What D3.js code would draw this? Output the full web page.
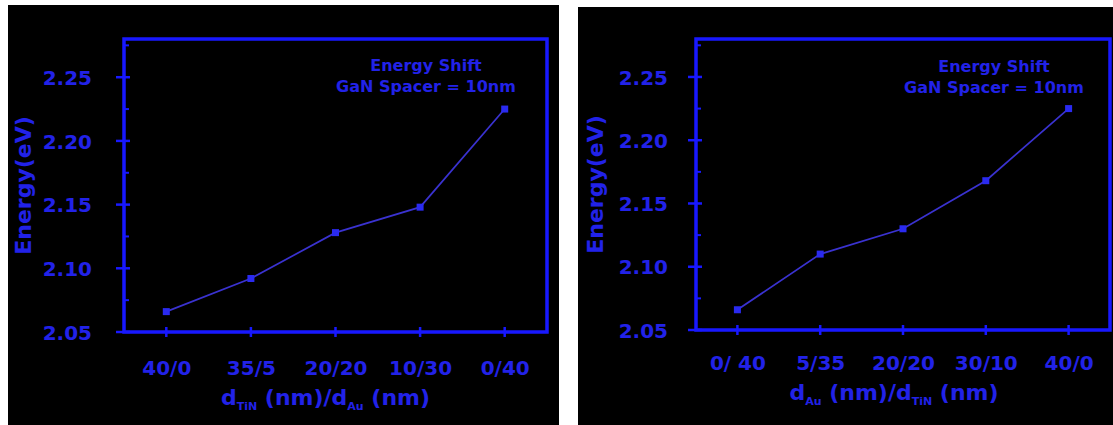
<!DOCTYPE html>
<html>
<head>
<meta charset="utf-8">
<title>Energy shift</title>
<style>
  body { margin: 0; background: #fff; }
  svg { display: block; }
</style>
</head>
<body>
<div id="chart"></div>
<script src="https://cdn.jsdelivr.net/npm/d3@7"></script>
<script>
// values
var yTickValues = [2.05, 2.10, 2.15, 2.20, 2.25];
var yMinorValues = [2.075, 2.125, 2.175, 2.225, 2.275];
var yDomain = [2.05, 2.28];

var leftCategories = ["40/0", "35/5", "20/20", "10/30", "0/40"];
var leftEnergy = [2.066, 2.092, 2.128, 2.148, 2.225];

var rightCategories = ["0/ 40", "5/35", "20/20", "30/10", "40/0"];
var rightEnergy = [2.066, 2.110, 2.130, 2.168, 2.225];

var noteLines = ["Energy Shift", "GaN Spacer = 10nm"];
var yTitle = "Energy(eV)";
var leftXTitle = [["d", false], ["TiN", true], [" (nm)/d", false], ["Au", true], [" (nm)", false]];
var rightXTitle = [["d", false], ["Au", true], [" (nm)/d", false], ["TiN", true], [" (nm)", false]];

var W = 1113, H = 425;
var frameColor = "#1818ff";
var lineColor = "#3a32d0";
var textColor = "#2222e8";
var FONT = "'DejaVu Sans', Arial, sans-serif";

var svg = d3.select("#chart").append("svg")
  .attr("width", W).attr("height", H);

function txt(sel, size) {
  return sel.attr("fill", textColor).attr("font-family", FONT)
    .attr("font-weight", "bold").attr("font-size", size);
}

function panel(opt) {
  // black backdrop
  svg.append("rect")
    .attr("x", opt.bg[0]).attr("y", opt.bg[1])
    .attr("width", opt.bg[2]).attr("height", opt.bg[3])
    .attr("fill", "#000");

  var x = d3.scalePoint().domain(opt.cats).range([opt.left, opt.right]).padding(0.5);
  var y = d3.scaleLinear().domain(yDomain).range([opt.bottom, opt.top]);

  var g = svg.append("g");

  // y axis labels via d3 axis
  var yAxis = g.append("g")
    .attr("transform", "translate(" + opt.left + ",0)")
    .call(d3.axisLeft(y).tickValues(yTickValues).tickSize(0).tickPadding(opt.yPad)
      .tickFormat(d3.format(".2f")));
  yAxis.select(".domain").remove();
  yAxis.attr("font-size", null).attr("font-family", null);
  txt(yAxis.selectAll("text"), 20).attr("dy", "0.36em");

  // x axis labels
  var xAxis = g.append("g")
    .attr("transform", "translate(0," + opt.bottom + ")")
    .call(d3.axisBottom(x).tickSize(0).tickPadding(0));
  xAxis.select(".domain").remove();
  xAxis.attr("font-size", null).attr("font-family", null);
  txt(xAxis.selectAll("text"), 20).attr("dy", null).attr("y", opt.xPad);

  // frame
  g.append("rect")
    .attr("x", opt.left).attr("y", opt.top)
    .attr("width", opt.right - opt.left).attr("height", opt.bottom - opt.top)
    .attr("fill", "none").attr("stroke", frameColor).attr("stroke-width", 3.5);

  // major / minor y ticks
  g.selectAll(".ymaj").data(yTickValues).enter().append("line")
    .attr("x1", opt.left - 8).attr("x2", opt.left + 6)
    .attr("y1", function(d) { return y(d); }).attr("y2", function(d) { return y(d); })
    .attr("stroke", frameColor).attr("stroke-width", 2.5);
  g.selectAll(".ymin").data(yMinorValues).enter().append("line")
    .attr("x1", opt.left).attr("x2", opt.left + 5)
    .attr("y1", function(d) { return y(d); }).attr("y2", function(d) { return y(d); })
    .attr("stroke", frameColor).attr("stroke-width", 2);

  // x ticks
  g.selectAll(".xt").data(opt.cats).enter().append("line")
    .attr("x1", function(d) { return x(d); }).attr("x2", function(d) { return x(d); })
    .attr("y1", opt.bottom - 5).attr("y2", opt.bottom + 5)
    .attr("stroke", frameColor).attr("stroke-width", 2.5);

  // data
  var pts = opt.cats.map(function(c, i) { return { c: c, v: opt.vals[i] }; });
  g.append("path").datum(pts)
    .attr("fill", "none").attr("stroke", lineColor).attr("stroke-width", 1.7)
    .attr("d", d3.line().x(function(d) { return x(d.c); }).y(function(d) { return y(d.v); }));
  g.selectAll(".pt").data(pts).enter().append("rect")
    .attr("x", function(d) { return x(d.c) - 3.5; })
    .attr("y", function(d) { return y(d.v) - 3.5; })
    .attr("width", 7).attr("height", 7)
    .attr("fill", "#2a2af0");

  // annotation
  txt(g.selectAll(".note").data(noteLines).enter().append("text"), 16)
    .attr("text-anchor", "middle")
    .attr("x", opt.noteX).attr("y", function(d, i) { return opt.noteY + i * 21; })
    .text(function(d) { return d; });

  // y title
  txt(g.append("text"), 22).attr("text-anchor", "middle")
    .attr("transform", "translate(" + opt.yTitleX + "," + ((opt.top + opt.bottom) / 2) + ") rotate(-90)")
    .text(yTitle);

  // x title with subscripts
  var t = txt(g.append("text"), 22).attr("text-anchor", "middle")
    .attr("x", (opt.left + opt.right) / 2 + opt.xTitleShift).attr("y", opt.xTitleY);
  opt.xTitle.forEach(function(p, i) {
    var s = t.append("tspan").text(p[0]);
    if (p[1]) s.attr("font-size", 11).attr("dy", 5);
    else if (i > 0 && opt.xTitle[i - 1][1]) s.attr("dy", -5);
  });
}

panel({
  bg: [8, 5, 551, 420],
  cats: leftCategories, vals: leftEnergy,
  left: 124, right: 547, top: 39, bottom: 332,
  yPad: 32, xPad: 43,
  noteX: 426, noteY: 71,
  yTitleX: 31, xTitleY: 405, xTitleShift: -10,
  xTitle: leftXTitle
});

panel({
  bg: [578, 7, 535, 418],
  cats: rightCategories, vals: rightEnergy,
  left: 696, right: 1110, top: 39, bottom: 330,
  yPad: 28, xPad: 40,
  noteX: 994, noteY: 72,
  yTitleX: 603, xTitleY: 400, xTitleShift: -9,
  xTitle: rightXTitle
});
</script>
</body>
</html>
